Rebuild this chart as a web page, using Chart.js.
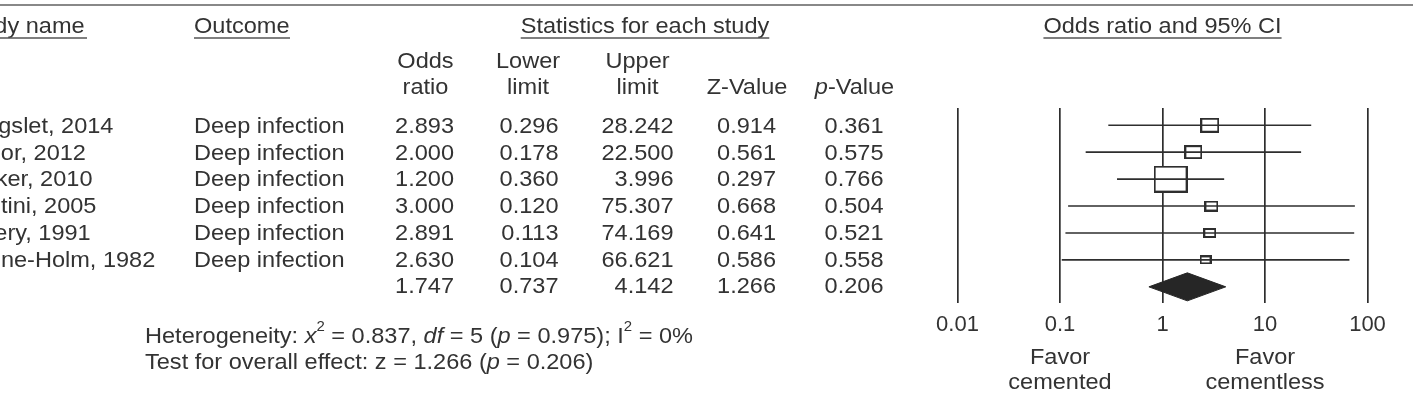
<!DOCTYPE html>
<html>
<head>
<meta charset="utf-8">
<title>Forest plot - deep infection</title>
<script src="https://cdn.jsdelivr.net/npm/chart.js@4.4.1/dist/chart.umd.min.js"></script>
<style>
  html, body { margin: 0; padding: 0; background: #fff; }
  #wrap { width: 1413px; height: 402px; position: relative; }
  canvas { display: block; }
</style>
</head>
<body>
<div id="wrap"><canvas id="forest" width="1413" height="402"></canvas></div>
<script>
// Study data
const studies = ["Langslet, 2014", "Taylor, 2012", "Parker, 2010", "Santini, 2005", "Emery, 1991", "Sonne-Holm, 1982"];
const outcomes = ["Deep infection", "Deep infection", "Deep infection", "Deep infection", "Deep infection", "Deep infection"];
const oddsRatio = [2.893, 2.000, 1.200, 3.000, 2.891, 2.630];
const lowerLimit = [0.296, 0.178, 0.360, 0.120, 0.113, 0.104];
const upperLimit = [28.242, 22.500, 3.996, 75.307, 74.169, 66.621];
const zValue = [0.914, 0.561, 0.297, 0.668, 0.641, 0.586];
const pValue = [0.361, 0.575, 0.766, 0.504, 0.521, 0.558];
// relative weights (%)
const weights = [15.3, 13.7, 48.9, 8.3, 7.5, 6.3];
// pooled: odds ratio, lower, upper, z, p
const summaryStats = [1.747, 0.737, 4.142, 1.266, 0.206];
const axisTicks = [0.01, 0.1, 1, 10, 100];

const INK = "#333333";
const LINE = "#2e2e2e";
const FAMILY = "'Liberation Sans', Arial, Helvetica, sans-serif";
const FS = 22;
const SX = 1.07; // text in the figure is slightly wide
const summaryRow = studies.length;

function makeBox(wt) {
  const w = Math.round(4.8 * Math.sqrt(wt));
  const h = Math.round(w * 0.78);
  const c = document.createElement("canvas");
  c.width = w;
  c.height = h;
  const g = c.getContext("2d");
  g.fillStyle = "#fff";
  g.fillRect(0, 0, w, h);
  g.strokeStyle = LINE;
  g.lineWidth = 2;
  g.strokeRect(1, 1, w - 2, h - 2);
  return c;
}

// text helper, draws horizontally stretched text
function put(ctx, str, x, y, align, opt) {
  opt = opt || {};
  const size = opt.size || FS;
  ctx.save();
  ctx.font = (opt.italic ? "italic " : "") + size + "px " + FAMILY;
  const w = ctx.measureText(str).width * SX;
  const x0 = align === "right" ? x - w : align === "center" ? x - w / 2 : x;
  ctx.translate(x0, y);
  ctx.scale(SX, 1);
  ctx.fillStyle = INK;
  ctx.textAlign = "left";
  ctx.textBaseline = "middle";
  ctx.fillText(str, 0, 0);
  ctx.restore();
  return w;
}

function rich(ctx, parts, x, y) {
  let cx = x;
  parts.forEach((p) => {
    if (p.sup) {
      cx += put(ctx, p.t, cx, y - 10, "left", { size: 14 });
    } else {
      cx += put(ctx, p.t, cx, y, "left", { italic: p.i });
    }
  });
}

function underline(ctx, x1, x2, y) {
  ctx.save();
  ctx.strokeStyle = "#555";
  ctx.lineWidth = 1.5;
  ctx.beginPath();
  ctx.moveTo(x1, y);
  ctx.lineTo(x2, y);
  ctx.stroke();
  ctx.restore();
}

const tablePlugin = {
  id: "forestTable",
  afterDraw(chart) {
    const ctx = chart.ctx;
    const ys = chart.scales.y;
    const xs = chart.scales.x;

    // top rule
    ctx.save();
    ctx.strokeStyle = "#888";
    ctx.lineWidth = 2;
    ctx.beginPath();
    ctx.moveTo(0, 5);
    ctx.lineTo(1413, 5);
    ctx.stroke();
    ctx.restore();

    // headings
    put(ctx, "Study name", -41, 27, "left");
    underline(ctx, 0, 87, 38);
    put(ctx, "Outcome", 194, 27, "left");
    underline(ctx, 194, 290, 38);
    const w1 = put(ctx, "Statistics for each study", 645, 27, "center");
    underline(ctx, 645 - w1 / 2, 645 + w1 / 2, 38);
    const mid = xs.getPixelForValue(1);
    const w2 = put(ctx, "Odds ratio and 95% CI", mid, 27, "center");
    underline(ctx, mid - w2 / 2, mid + w2 / 2, 38);

    const cols = [425.5, 528, 637.5, 747, 854.5];
    const rights = [454, 558.5, 673.5, 776, 883.5];
    put(ctx, "Odds", cols[0], 62, "center");
    put(ctx, "Lower", cols[1], 62, "center");
    put(ctx, "Upper", cols[2], 62, "center");
    put(ctx, "ratio", cols[0], 88, "center");
    put(ctx, "limit", cols[1], 88, "center");
    put(ctx, "limit", cols[2], 88, "center");
    put(ctx, "Z-Value", cols[3], 88, "center");
    const pw = put(ctx, "p", 0, -100, "left", { italic: true });
    const rest = put(ctx, "-Value", 0, -100, "left");
    const px0 = cols[4] - (pw + rest) / 2;
    put(ctx, "p", px0, 88, "left", { italic: true });
    put(ctx, "-Value", px0 + pw, 88, "left");

    // study rows
    studies.forEach((name, i) => {
      const y = ys.getPixelForValue(i) + 1.3;
      put(ctx, name, -41, y, "left");
      put(ctx, outcomes[i], 194, y, "left");
      put(ctx, oddsRatio[i].toFixed(3), rights[0], y, "right");
      put(ctx, lowerLimit[i].toFixed(3), rights[1], y, "right");
      put(ctx, upperLimit[i].toFixed(3), rights[2], y, "right");
      put(ctx, zValue[i].toFixed(3), rights[3], y, "right");
      put(ctx, pValue[i].toFixed(3), rights[4], y, "right");
    });
    const ySum = ys.getPixelForValue(summaryRow) + 0.5;
    summaryStats.forEach((v, k) => put(ctx, v.toFixed(3), rights[k], ySum, "right"));

    // heterogeneity notes
    rich(ctx, [
      { t: "Heterogeneity: " }, { t: "x", i: true }, { t: "2", sup: true },
      { t: " = 0.837, " }, { t: "df", i: true }, { t: " = 5 (" }, { t: "p", i: true },
      { t: " = 0.975); I" }, { t: "2", sup: true }, { t: " = 0%" }
    ], 145, 337);
    rich(ctx, [
      { t: "Test for overall effect: z = 1.266 (" }, { t: "p", i: true }, { t: " = 0.206)" }
    ], 145, 363);

    // favour labels under the axis
    const xl = xs.getPixelForValue(0.1);
    const xr = xs.getPixelForValue(10);
    put(ctx, "Favor", xl, 358, "center");
    put(ctx, "cemented", xl, 383, "center");
    put(ctx, "Favor", xr, 358, "center");
    put(ctx, "cementless", xr, 383, "center");
  }
};

// CI whiskers, one dataset per study
const ciSets = studies.map((s, i) => ({
  label: s,
  data: [{ x: lowerLimit[i], y: i }, { x: upperLimit[i], y: i }],
  borderColor: LINE,
  borderWidth: 1.6,
  pointRadius: 0,
  fill: false
}));

const DH = 0.52; // half height of the pooled diamond, in rows
const diamondTop = {
  label: "pooled-top",
  data: [
    { x: summaryStats[1], y: summaryRow },
    { x: summaryStats[0], y: summaryRow - DH },
    { x: summaryStats[2], y: summaryRow }
  ],
  borderColor: "#262626",
  borderWidth: 1,
  backgroundColor: "#262626",
  pointRadius: 0,
  fill: false
};
const diamondBottom = {
  label: "pooled-bottom",
  data: [
    { x: summaryStats[1], y: summaryRow },
    { x: summaryStats[0], y: summaryRow + DH },
    { x: summaryStats[2], y: summaryRow }
  ],
  borderColor: "#262626",
  borderWidth: 1,
  backgroundColor: "#262626",
  pointRadius: 0,
  fill: "-1"
};

const boxSet = {
  label: "odds ratio",
  data: oddsRatio.map((v, i) => ({ x: v, y: i })),
  showLine: false,
  pointStyle: weights.map(makeBox),
  pointRadius: 10,
  borderWidth: 0
};

new Chart(document.getElementById("forest"), {
  type: "line",
  data: { datasets: [...ciSets, diamondTop, diamondBottom, boxSet] },
  options: {
    responsive: false,
    animation: false,
    layout: { padding: { left: 957.5, right: 45.5, top: 108, bottom: 54.6 } },
    plugins: { legend: { display: false }, tooltip: { enabled: false } },
    scales: {
      x: {
        type: "logarithmic",
        min: 0.01,
        max: 100,
        afterBuildTicks: (s) => { s.ticks = axisTicks.map((v) => ({ value: v })); },
        grid: { color: LINE, lineWidth: 1.7, drawTicks: false },
        border: { display: false },
        ticks: {
          autoSkip: false,
          maxRotation: 0,
          padding: 9,
          color: INK,
          font: { family: FAMILY, size: FS },
          callback: (v) => String(v)
        }
      },
      y: {
        type: "linear",
        min: -0.64,
        max: 6.6,
        reverse: true,
        display: false
      }
    }
  },
  plugins: [tablePlugin]
});
</script>
</body>
</html>
